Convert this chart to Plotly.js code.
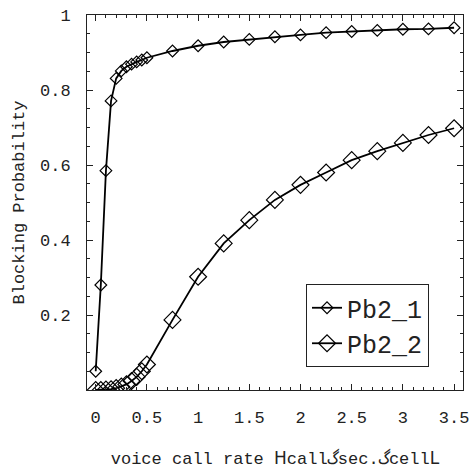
<!DOCTYPE html>
<html>
<head>
<meta charset="utf-8">
<script src="https://cdn.plot.ly/plotly-3.0.1.min.js"></script>
<style>html,body{margin:0;padding:0;background:#fff;}#chart{width:470px;height:469px;}</style>
</head>
<body>
<div id="chart"></div>
<script>
var seriesNames = ["Pb2_1", "Pb2_2"];
var xRate = [0, 0.05, 0.1, 0.15, 0.2, 0.25, 0.3, 0.35, 0.4, 0.45, 0.5, 0.75, 1, 1.25, 1.5, 1.75, 2, 2.25, 2.5, 2.75, 3, 3.25, 3.5];
var pb21 = [0.05, 0.28, 0.585, 0.771, 0.831, 0.851, 0.862, 0.869, 0.875, 0.880, 0.886, 0.904, 0.918, 0.928, 0.935, 0.942, 0.947, 0.953, 0.956, 0.959, 0.962, 0.963, 0.966];
var pb22 = [0.0, 0.0, 0.001, 0.002, 0.005, 0.009, 0.015, 0.024, 0.035, 0.05, 0.068, 0.187, 0.302, 0.391, 0.453, 0.507, 0.547, 0.580, 0.613, 0.637, 0.659, 0.680, 0.698];
var yTickVals = [0.2, 0.4, 0.6, 0.8, 1];
var yTickText = ["0.2", "0.4", "0.6", "0.8", "1"];

var FONT = "'Courier New', 'Liberation Mono', monospace";

var traces = [
  {
    x: xRate, y: pb21, name: seriesNames[0], type: "scatter", mode: "lines+markers",
    line: {color: "#000", width: 1.8},
    marker: {symbol: "diamond-open", size: 9, color: "#000", line: {width: 1.2, color: "#000"}}
  },
  {
    x: xRate, y: pb22, name: seriesNames[1], type: "scatter", mode: "lines+markers",
    line: {color: "#000", width: 1.8},
    marker: {symbol: "diamond-open", size: 13, color: "#000", line: {width: 1.2, color: "#000"}}
  }
];

var axisCommon = {
  showline: true, linecolor: "#222", linewidth: 1, mirror: "ticks",
  ticks: "inside", ticklen: 6, tickwidth: 1, tickcolor: "#222",
  showgrid: false, zeroline: false,
  ticklabeloverflow: "allow",
  tickfont: {family: FONT, size: 17, color: "#222"}
};

var layout = {
  width: 470, height: 469,
  margin: {l: 87, r: 7, t: 15, b: 79},
  paper_bgcolor: "#fff", plot_bgcolor: "#fff",
  font: {family: FONT, size: 17, color: "#222"},
  showlegend: true,
  legend: {
    x: 0.9096, xanchor: "right", y: 0.0613, yanchor: "bottom",
    bordercolor: "#222", borderwidth: 1, bgcolor: "#fff",
    font: {family: FONT, size: 25, color: "#222"},
    tracegroupgap: 0
  },
  xaxis: Object.assign({}, axisCommon, {
    range: [-0.085, 3.587], tickmode: "linear", tick0: 0, dtick: 0.5,
    ticklabelstandoff: 12,
    minor: {tickmode: "linear", tick0: 0, dtick: 0.1, ticks: "inside", ticklen: 3, tickcolor: "#222", showgrid: false},
    title: {text: "voice call rate <span style=\"font-family:'DejaVu Sans'\">H</span>callگsec.گcell<span style=\"font-family:'DejaVu Sans'\">L</span>", font: {family: FONT, size: 17, color: "#222"}, standoff: 24}
  }),
  yaxis: Object.assign({}, axisCommon, {
    range: [0, 1], tickmode: "array", tickvals: yTickVals, ticktext: yTickText,
    ticklabelstandoff: 12,
    minor: {tickmode: "linear", tick0: 0, dtick: 0.05, ticks: "inside", ticklen: 3, tickcolor: "#222", showgrid: false},
    title: {text: "Blocking Probability", font: {family: FONT, size: 17, color: "#222"}, standoff: 11}
  })
};

Plotly.newPlot("chart", traces, layout, {displayModeBar: false, staticPlot: true});
</script>
</body>
</html>
